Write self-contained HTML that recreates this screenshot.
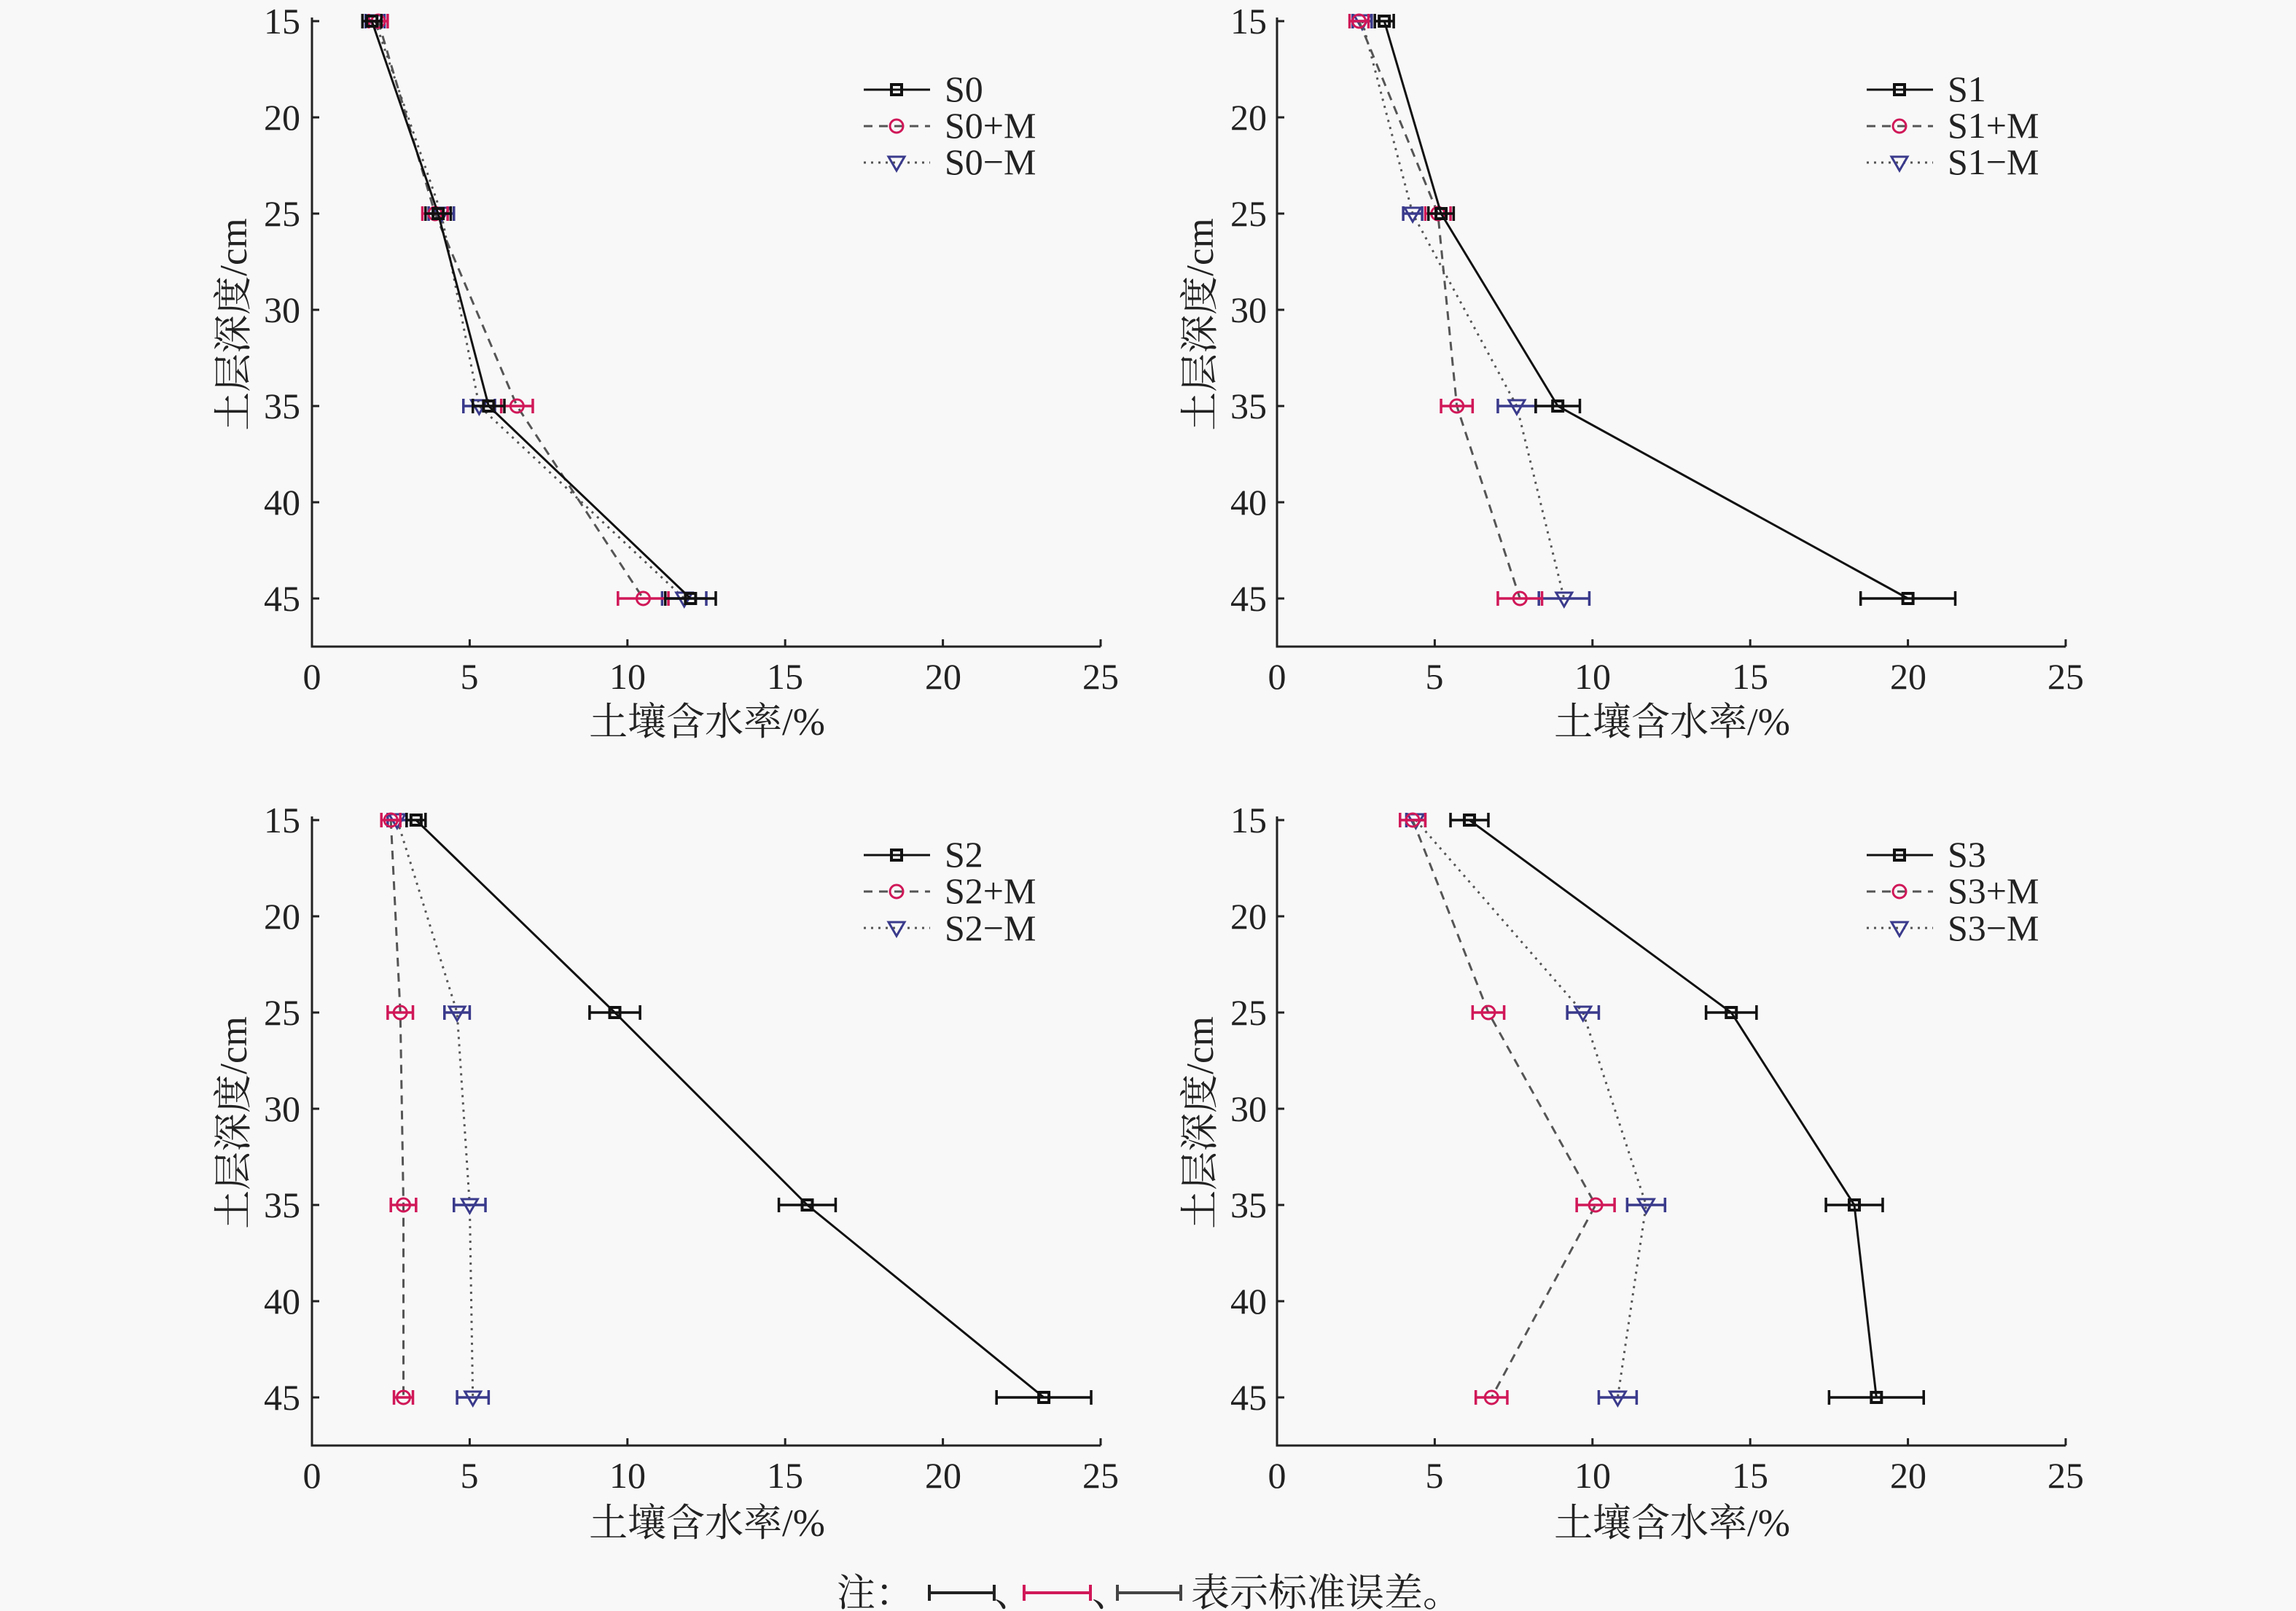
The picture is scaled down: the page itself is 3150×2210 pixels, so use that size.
<!DOCTYPE html>
<html><head><meta charset="utf-8"><style>
html,body{margin:0;padding:0;background:#f8f8f8}
svg{display:block}
.t{font-family:"Liberation Serif","Noto Serif CJK SC",serif;font-size:50px;fill:#222}
.l{font-family:"Liberation Serif","Noto Serif CJK SC",serif;font-size:53px;fill:#222}
.c{font-family:"Liberation Serif","Noto Serif CJK SC",serif;font-size:53px;fill:#222}
</style></head><body>
<svg id="s" width="3150" height="2210" viewBox="0 0 3150 2210" xmlns="http://www.w3.org/2000/svg">
<rect width="3150" height="2210" fill="#f8f8f8"/>
<g id="g"></g>
<g class="t" text-anchor="end">
<text x="412" y="46">15</text><text x="412" y="178">20</text><text x="412" y="310">25</text><text x="412" y="442">30</text><text x="412" y="574">35</text><text x="412" y="706">40</text><text x="412" y="838">45</text>
<text x="1738" y="46">15</text><text x="1738" y="178">20</text><text x="1738" y="310">25</text><text x="1738" y="442">30</text><text x="1738" y="574">35</text><text x="1738" y="706">40</text><text x="1738" y="838">45</text>
<text x="412" y="1142">15</text><text x="412" y="1274">20</text><text x="412" y="1406">25</text><text x="412" y="1538">30</text><text x="412" y="1670">35</text><text x="412" y="1802">40</text><text x="412" y="1934">45</text>
<text x="1738" y="1142">15</text><text x="1738" y="1274">20</text><text x="1738" y="1406">25</text><text x="1738" y="1538">30</text><text x="1738" y="1670">35</text><text x="1738" y="1802">40</text><text x="1738" y="1934">45</text>
</g>
<g class="t" text-anchor="middle">
<text x="428" y="945">0</text><text x="644" y="945">5</text><text x="861" y="945">10</text><text x="1077" y="945">15</text><text x="1294" y="945">20</text><text x="1510" y="945">25</text>
<text x="1752" y="945">0</text><text x="1968" y="945">5</text><text x="2185" y="945">10</text><text x="2401" y="945">15</text><text x="2618" y="945">20</text><text x="2834" y="945">25</text>
<text x="428" y="2041">0</text><text x="644" y="2041">5</text><text x="861" y="2041">10</text><text x="1077" y="2041">15</text><text x="1294" y="2041">20</text><text x="1510" y="2041">25</text>
<text x="1752" y="2041">0</text><text x="1968" y="2041">5</text><text x="2185" y="2041">10</text><text x="2401" y="2041">15</text><text x="2618" y="2041">20</text><text x="2834" y="2041">25</text>
</g>
<g class="l" text-anchor="middle">
<text x="970" y="1008">土壤含水率/%</text>
<text x="2294" y="1008">土壤含水率/%</text>
<text x="970" y="2107">土壤含水率/%</text>
<text x="2294" y="2107">土壤含水率/%</text>
<text transform="translate(338,445) rotate(-90)">土层深度/cm</text>
<text transform="translate(1664,445) rotate(-90)">土层深度/cm</text>
<text transform="translate(338,1540) rotate(-90)">土层深度/cm</text>
<text transform="translate(1664,1540) rotate(-90)">土层深度/cm</text>
</g>
<g class="t">
<text x="1296" y="139">S0</text><text x="1296" y="189">S0+M</text><text x="1296" y="239">S0−M</text>
<text x="2672" y="139">S1</text><text x="2672" y="189">S1+M</text><text x="2672" y="239">S1−M</text>
<text x="1296" y="1189">S2</text><text x="1296" y="1239">S2+M</text><text x="1296" y="1290">S2−M</text>
<text x="2672" y="1189">S3</text><text x="2672" y="1239">S3+M</text><text x="2672" y="1290">S3−M</text>
</g>
<text class="c" x="1148" y="2203">注：</text>
<text class="c" x="1364" y="2203">、</text>
<text class="c" x="1498" y="2203">、</text>
<text class="c" x="1634" y="2203">表示标准误差。</text>
<g stroke-width="4">
<path d="M1275 2185H1364M1275 2174V2196M1364 2174V2196" stroke="#222"/>
<path d="M1405 2185H1496M1405 2174V2196M1496 2174V2196" stroke="#d01858"/>
<path d="M1533 2185H1620M1533 2174V2196M1620 2174V2196" stroke="#444"/>
</g>
</svg>
<script>
var g=document.getElementById('g'),NS='http://www.w3.org/2000/svg';
function el(t,a){var e=document.createElementNS(NS,t);for(var k in a)e.setAttribute(k,a[k]);g.appendChild(e);return e;}
var panels=[
{x0:428,y15:29,yb:887,lx:1185,ly:123,d:[[1.9,4.0,5.6,12.0],[0.3,0.4,0.5,0.8],[2.1,3.9,6.5,10.5],[0.3,0.4,0.5,0.8],[2.0,4.1,5.3,11.8],[0.3,0.4,0.5,0.7]]},
{x0:1752,y15:29,yb:887,lx:2561,ly:123,d:[[3.4,5.2,8.9,20.0],[0.3,0.4,0.7,1.5],[2.6,5.1,5.7,7.7],[0.3,0.4,0.5,0.7],[2.7,4.3,7.6,9.1],[0.3,0.3,0.6,0.8]]},
{x0:428,y15:1125,yb:1983,lx:1185,ly:1173,d:[[3.3,9.6,15.7,23.2],[0.3,0.8,0.9,1.5],[2.5,2.8,2.9,2.9],[0.3,0.4,0.4,0.3],[2.7,4.6,5.0,5.1],[0.3,0.4,0.5,0.5]]},
{x0:1752,y15:1125,yb:1983,lx:2561,ly:1173,d:[[6.1,14.4,18.3,19.0],[0.6,0.8,0.9,1.5],[4.3,6.7,10.1,6.8],[0.4,0.5,0.6,0.5],[4.4,9.7,11.7,10.8],[0.3,0.5,0.6,0.6]]}];
var XS=43.28,YS=26.4,deps=[15,25,35,45];
var styles=[{c:'#111',lc:'#111',da:'',m:'sq'},{c:'#d01858',lc:'#555',da:'12 9',m:'ci'},{c:'#3a3a8c',lc:'#555',da:'3 7',m:'tr'}];
function marker(m,x,y,c){
 if(m=='sq')el('rect',{x:x-7,y:y-7,width:14,height:14,fill:'none',stroke:c,'stroke-width':4});
 else if(m=='ci')el('circle',{cx:x,cy:y,r:9,fill:'none',stroke:c,'stroke-width':3});
 else el('path',{d:'M'+(x-11)+' '+(y-8)+'H'+(x+11)+'L'+x+' '+(y+11)+'Z',fill:'none',stroke:c,'stroke-width':3});
}
panels.forEach(function(p){
 var xe=p.x0+25*XS;
 el('path',{d:'M'+p.x0+' '+(p.y15-5)+'V'+p.yb+'H'+xe,fill:'none',stroke:'#222','stroke-width':3});
 for(var i=0;i<7;i++){var y=p.y15+i*5*YS;el('path',{d:'M'+p.x0+' '+y+'h10',stroke:'#222','stroke-width':3});}
 for(var i=1;i<=5;i++){var x=p.x0+i*5*XS;el('path',{d:'M'+x+' '+p.yb+'v-10',stroke:'#222','stroke-width':3});}
 [2,1,0].forEach(function(s){
  var st=styles[s],v=p.d[s*2],e=p.d[s*2+1],pts=[];
  for(var i=0;i<4;i++)pts.push((p.x0+v[i]*XS).toFixed(1)+','+(p.y15+(deps[i]-15)*YS).toFixed(1));
  el('polyline',{points:pts.join(' '),fill:'none',stroke:st.lc,'stroke-width':3,'stroke-dasharray':st.da});
  for(var i=0;i<4;i++){
   var x=p.x0+v[i]*XS,y=p.y15+(deps[i]-15)*YS,a=x-e[i]*XS,b=x+e[i]*XS;
   el('path',{d:'M'+a+' '+y+'H'+b+'M'+a+' '+(y-10)+'V'+(y+10)+'M'+b+' '+(y-10)+'V'+(y+10),stroke:st.c,'stroke-width':3.5,fill:'none'});
   marker(st.m,x,y,st.c);
  }
  var ly=p.ly+s*50;
  el('path',{d:'M'+p.lx+' '+ly+'H'+(p.lx+91),stroke:st.lc,'stroke-width':3,'stroke-dasharray':st.da});
  marker(st.m,p.lx+45,ly,st.c);
 });
});
</script>
</body></html>
